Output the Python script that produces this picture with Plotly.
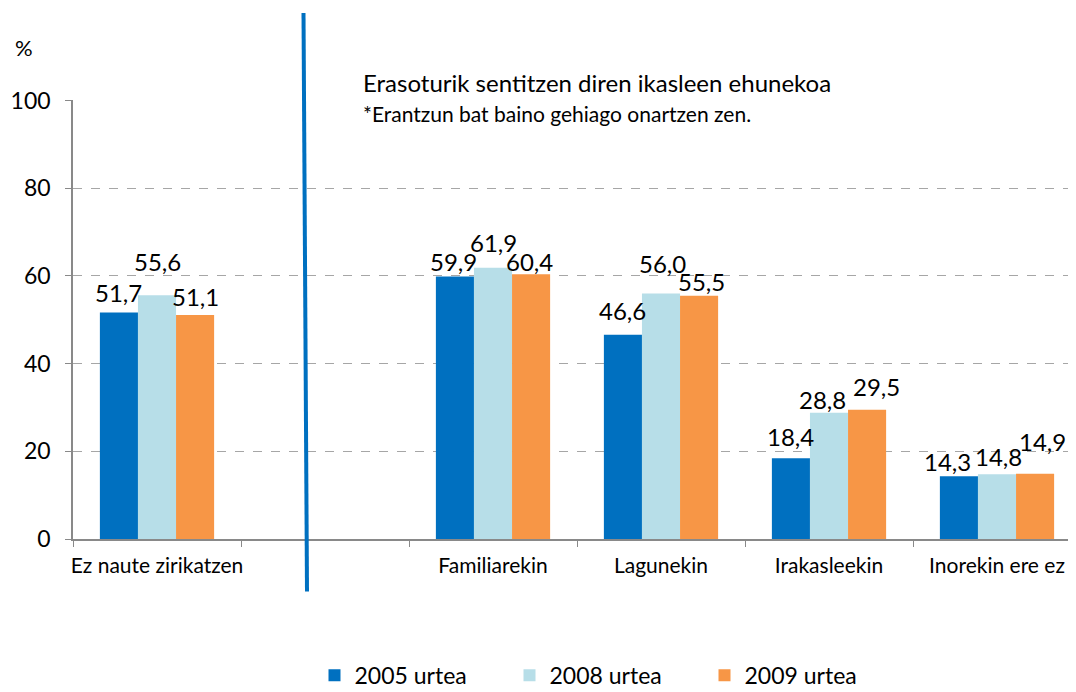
import plotly.graph_objects as go

# ---- data ----
categories = ["Ez naute zirikatzen", " ", "Familiarekin", "Lagunekin", "Irakasleekin", "Inorekin ere ez"]
series_names = ["2005 urtea", "2008 urtea", "2009 urtea"]
v2005 = [51.7, None, 59.9, 46.6, 18.4, 14.3]
v2008 = [55.6, None, 61.9, 56.0, 28.8, 14.8]
v2009 = [51.1, None, 60.4, 55.5, 29.5, 14.9]
y_ticks = [0, 20, 40, 60, 80, 100]
title_line1 = "Erasoturik sentitzen diren ikasleen ehunekoa"
title_line2 = "*Erantzun bat baino gehiago onartzen zen."

# ---- styling ----
colors = ["#0070C0", "#B7DEE8", "#F79646"]
# manual nudges (px) of each value label, per series, as placed in the original
label_lift = [
    [9, None, 4, 14, 11, 4],
    [23, None, 15, 20, 3, 7],
    [8, None, 2, 4, 13, 22],
]
label_dx = [
    [0, None, -1, 0, 0, -11],
    [0, None, 0, 1, -7, 1],
    [0, None, -2, 2, 9, 7],
]
FONT = "Lato"
OFF = 8                     # page body margin of the html page
W, H = 1076 - OFF, 692 - OFF
ML, MT = 73 - OFF, 100 - OFF
MB = H - (539.5 - OFF)
MR = 0
bargap = 0.32
plot_w = W - ML - MR
plot_h = H - MT - MB
cat_px = 168
x_range = [-0.5, -0.5 + plot_w / cat_px]


def px_x(page_x):
    return (page_x - OFF - ML) / plot_w


def px_y(page_y):
    return (H - MB - (page_y - OFF)) / plot_h


all_series = [v2005, v2008, v2009]
fig = go.Figure()
for name, vals, col in zip(series_names, all_series, colors):
    fig.add_trace(go.Bar(x=categories, y=vals, name=name, showlegend=False,
                         marker=dict(color=col, line=dict(width=0))))
# legend entries with square swatches
for name, col in zip(series_names, colors):
    fig.add_trace(go.Scatter(x=[None], y=[None], mode="markers", name=name,
                             marker=dict(symbol="square", size=16, color=col)))

# value labels
bw = (1 - bargap) / 3
annotations = []
for j, vals in enumerate(all_series):
    for i, v in enumerate(vals):
        if v is None:
            continue
        annotations.append(dict(
            x=i + (j - 1) * bw, y=v, xref="x", yref="y",
            text=f"{v:.1f}".replace(".", ","), showarrow=False,
            yanchor="bottom", yshift=label_lift[j][i] - 6, xshift=label_dx[j][i],
            font=dict(family=FONT, size=24, color="#000000")))

annotations.append(dict(x=px_x(24), y=px_y(47), xref="paper", yref="paper",
                        text="%", showarrow=False, xanchor="center", yanchor="middle",
                        font=dict(family=FONT, size=22, color="#000")))
annotations.append(dict(x=px_x(361), y=px_y(82), xref="paper", yref="paper",
                        text=title_line1, showarrow=False, xanchor="left", yanchor="middle",
                        font=dict(family=FONT, size=24, color="#000")))
annotations.append(dict(x=px_x(361), y=px_y(114), xref="paper", yref="paper",
                        text=title_line2, showarrow=False, xanchor="left", yanchor="middle",
                        font=dict(family=FONT, size=21, color="#000")))

shapes = [
    # white box behind the note
    dict(type="rect", xref="paper", yref="paper",
         x0=px_x(338), x1=px_x(905), y0=px_y(132), y1=px_y(62),
         fillcolor="white", line=dict(width=0), layer="above"),
    # blue vertical divider
    dict(type="line", xref="paper", yref="paper",
         x0=px_x(303.5), x1=px_x(307), y0=px_y(13), y1=px_y(592),
         line=dict(color="#0070C0", width=4), layer="above"),
]

fig.update_layout(
    width=W, height=H,
    margin=dict(l=ML, r=MR, t=MT, b=MB, autoexpand=False),
    paper_bgcolor="white", plot_bgcolor="white",
    barmode="group", bargap=bargap, bargroupgap=0,
    font=dict(family=FONT, color="#000"),
    showlegend=True,
    legend=dict(orientation="h", x=px_x(607), xanchor="center", y=px_y(676), yanchor="middle",
                font=dict(family=FONT, size=23), entrywidth=150, traceorder="normal",
                itemsizing="constant"),
    annotations=annotations,
    shapes=shapes,
)
fig.update_xaxes(
    type="category", categoryorder="array", categoryarray=categories, automargin=False,
    range=x_range, tickson="boundaries", ticks="outside", ticklen=6, tickcolor="#898989",
    showline=True, linecolor="#898989", linewidth=1.5, showgrid=False, tickangle=0,
    tickfont=dict(family=FONT, size=21, color="#000"), ticklabelstandoff=7,
)
fig.update_yaxes(
    range=[0, 100.15], tickvals=y_ticks, ticks="outside", ticklen=6, tickcolor="#898989",
    showline=True, linecolor="#898989", linewidth=1.5, automargin=False,
    showgrid=True, gridcolor="#A6A6A6", griddash="dash", gridwidth=1.3,
    zeroline=False, tickfont=dict(family=FONT, size=23, color="#000"), ticklabelstandoff=10,
)

fig.write_html("out.html")
